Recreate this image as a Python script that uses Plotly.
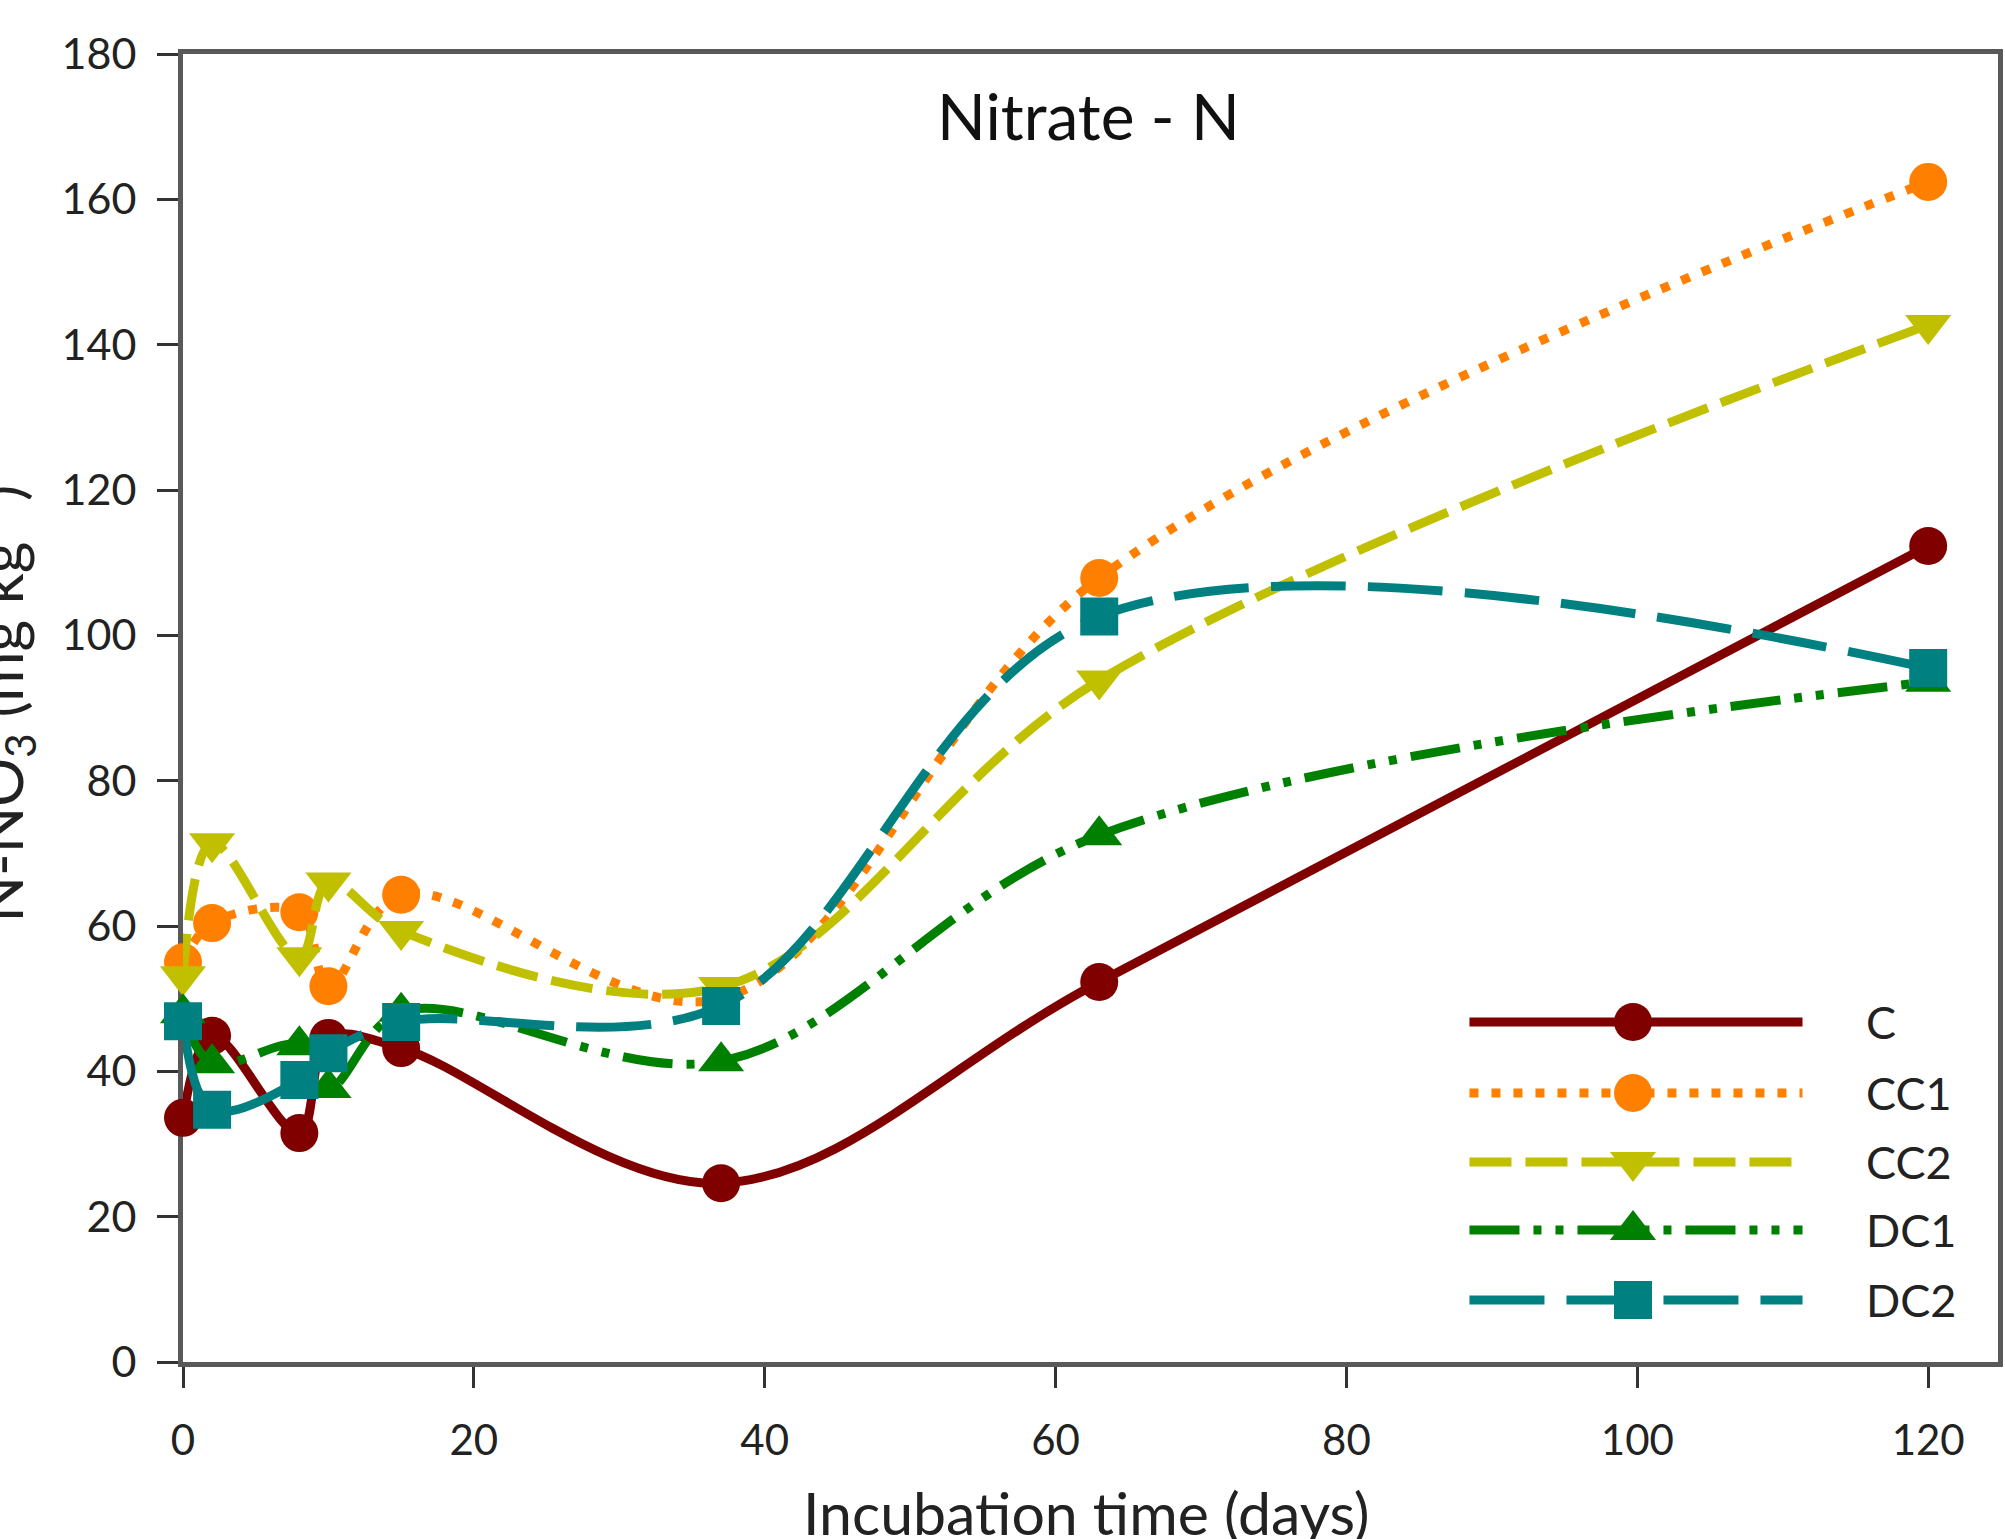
import plotly.graph_objects as go

# ---- data ----
days = [0, 2, 8, 10, 15, 37, 63, 120]
C   = [33.6, 44.9, 31.5, 44.6, 43.2, 24.6, 52.3, 112.3]
CC1 = [55.0, 60.4, 61.9, 51.7, 64.3, 50.0, 107.9, 162.4]
CC2 = [53.1, 71.4, 55.7, 66.0, 59.3, 51.6, 93.8, 142.7]
DC1 = [48.0, 41.1, 43.6, 37.7, 48.2, 41.4, 72.5, 93.6]
DC2 = [46.9, 34.7, 38.8, 42.5, 46.8, 49.0, 102.6, 95.5]
series_names = ["C", "CC1", "CC2", "DC1", "DC2"]
x_ticks = [0, 20, 40, 60, 80, 100, 120]
y_ticks = [0, 20, 40, 60, 80, 100, 120, 140, 160, 180]

FONT = "Lato"
colors = ["#800000", "#FF8000", "#C0C000", "#008000", "#008080"]
dashes = ["solid", "9px,13px", "42px,14px", "50px,14px,8px,14px,8px,14px", "75px,22px"]
symbols = ["circle", "circle", "triangle-down", "triangle-up", "square"]
msizes = [38, 38, 40, 40, 38]
values = [C, CC1, CC2, DC1, DC2]

fig = go.Figure()
for name, vals, col, dsh, sym, ms in zip(series_names, values, colors, dashes, symbols, msizes):
    fig.add_trace(go.Scatter(
        x=days, y=vals, name=name, mode="lines+markers",
        line=dict(color=col, width=9, dash=dsh, shape="spline", smoothing=1),
        marker=dict(symbol=sym, size=ms, color=col, opacity=1, line=dict(width=0)),
        cliponaxis=False, showlegend=False,
    ))

# ---- custom legend (long sample lines like the original) ----
L0, LM, L1 = 0.7088, 0.7989, 0.8923
rows = [0.2599, 0.2057, 0.1529, 0.1009, 0.0474]
for name, col, dsh, sym, ms, ry in zip(series_names, colors, dashes, symbols, msizes, rows):
    fig.add_trace(go.Scatter(
        x=[L0, L1], y=[ry, ry], mode="lines",
        xaxis="x2", yaxis="y2",
        line=dict(color=col, width=9, dash=dsh),
        showlegend=False, hoverinfo="skip", cliponaxis=False,
    ))
    fig.add_trace(go.Scatter(
        x=[LM], y=[ry], mode="markers",
        xaxis="x2", yaxis="y2",
        marker=dict(symbol=sym, size=ms, color=col, opacity=1, line=dict(width=0)),
        showlegend=False, hoverinfo="skip", cliponaxis=False,
    ))
    fig.add_annotation(x=0.926, y=ry, xref="x2", yref="y2", text=name,
                       showarrow=False, xanchor="left", yanchor="middle",
                       font=dict(family=FONT, size=45, color="#222222"))

W, H = 2005, 1539
ML, MR, MT, MB = 183, 2, 54, 177
x_end = 120 * (W - MR - ML) / (1933 - ML)

axis_common = dict(showgrid=False, zeroline=False, showline=True, mirror=True,
                   linecolor="#595959", linewidth=5, ticks="outside", ticklen=21,
                   tickwidth=3, tickcolor="#333333", layer="below traces")

fig.update_layout(
    width=W, height=H, autosize=False,
    margin=dict(l=ML, r=MR, t=MT, b=MB),
    paper_bgcolor="white", plot_bgcolor="white",
    showlegend=False,
    xaxis=dict(range=[0, x_end], tickvals=x_ticks, ticklabelstandoff=17,
               tickfont=dict(family=FONT, size=42, color="#222222"), **axis_common),
    yaxis=dict(range=[0, 180], tickvals=y_ticks, ticklabelstandoff=12,
               tickfont=dict(family=FONT, size=43, color="#222222"), **axis_common),
    xaxis2=dict(domain=[0, 1], range=[0, 1], visible=False, anchor="y2", overlaying="x"),
    yaxis2=dict(domain=[0, 1], range=[0, 1], visible=False, anchor="x2", overlaying="y"),
)

# title
fig.add_annotation(x=(1091 - ML) / (W - MR - ML), y=(1362 - 115) / 1308, xref="paper", yref="paper",
                   text="Nitrate - N", showarrow=False, xanchor="center", yanchor="middle",
                   font=dict(family=FONT, size=64, color="#111111"))
# x title
fig.add_annotation(x=(1089 - ML) / (W - MR - ML), y=-(1512 - 1362) / 1308, xref="paper", yref="paper",
                   text="Incubation time (days)", showarrow=False, xanchor="center", yanchor="middle",
                   font=dict(family=FONT, size=59, color="#222222"))
# y title (partially cut off at the left edge as in the original)
fig.add_annotation(x=-(ML + 1) / (W - MR - ML), y=0.503, xref="paper", yref="paper",
                   text="N-NO<sub>3</sub> (mg kg<sup>-1</sup>)", showarrow=False, textangle=-90,
                   xanchor="center", yanchor="middle",
                   font=dict(family=FONT, size=61, color="#222222"))

fig.write_html("out.html")
